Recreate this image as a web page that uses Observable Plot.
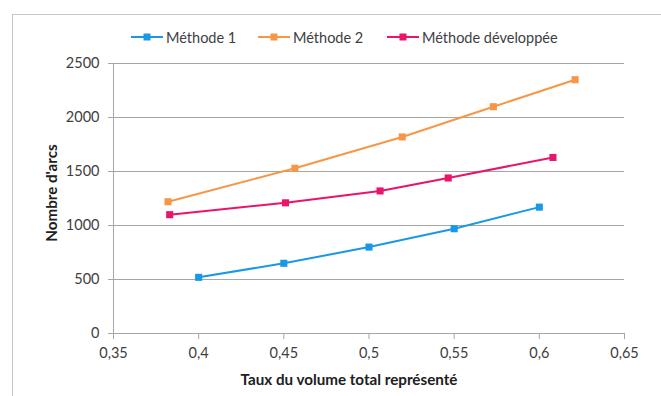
<!DOCTYPE html>
<html>
<head>
<meta charset="utf-8">
<script src="https://cdn.jsdelivr.net/npm/d3@7"></script>
<script src="https://cdn.jsdelivr.net/npm/@observablehq/plot@0.6"></script>
<style>
  html, body { margin: 0; padding: 0; background: #fff; }
  #wrap { position: relative; width: 661px; height: 396px; overflow: hidden; font-family: Lato, "Open Sans", sans-serif; color: #404040; }
  #frame { position: absolute; left: 12px; top: 14px; width: 800px; height: 500px; border-left: 1px solid #c6c6c6; border-top: 1px solid #c6c6c6; }
  #chart { position: absolute; left: 0; top: 50px; }
  .leg { position: absolute; top: 27px; height: 20px; display: flex; align-items: center; font-size: 14.5px; white-space: nowrap; }
  .leg svg { margin-right: 3px; }
  #xt { position: absolute; top: 370px; width: 300px; left: 199px; text-align: center; font-weight: bold; font-size: 15.2px; color: #202020; }
  #yt { position: absolute; left: 51px; top: 193px; transform: translate(-50%, -50%) rotate(-90deg); font-weight: bold; font-size: 15.2px; white-space: nowrap; color: #202020; }
</style>
</head>
<body>
<div id="wrap">
  <div id="frame"></div>
  <div id="legend"></div>
  <div id="chart"></div>
  <div id="xt"></div>
  <div id="yt"></div>
</div>
<script>
const seriesNames = ["Méthode 1", "Méthode 2", "Méthode développée"];
const seriesColors = ["#1a98e6", "#f79646", "#e8156a"];
const m1X = [0.4, 0.45, 0.5, 0.55, 0.6];
const m1Y = [520, 650, 800, 970, 1170];
const m2X = [0.382, 0.4565, 0.5195, 0.573, 0.621];
const m2Y = [1220, 1530, 1820, 2100, 2350];
const mdX = [0.383, 0.451, 0.5065, 0.5465, 0.608];
const mdY = [1100, 1210, 1320, 1440, 1630];
const xTicks = [0.35, 0.4, 0.45, 0.5, 0.55, 0.6, 0.65];
const yTicks = [0, 500, 1000, 1500, 2000, 2500];
const xTitle = "Taux du volume total représenté";
const yTitle = "Nombre d'arcs";

const allX = [m1X, m2X, mdX];
const allY = [m1Y, m2Y, mdY];
const data = [];
seriesNames.forEach((s, i) => allX[i].forEach((x, j) => data.push({series: s, x, y: allY[i][j]})));

const gridColor = "#a6a6a6";
const chart = Plot.plot({
  width: 650,
  height: 346,
  marginLeft: 113,
  marginRight: 26,
  marginTop: 13,
  marginBottom: 63,
  style: {fontFamily: "Lato, 'Open Sans', sans-serif", fontSize: "14.5px", color: "#404040", background: "transparent", overflow: "visible"},
  x: {domain: [0.35, 0.65]},
  y: {domain: [0, 2500]},
  color: {domain: seriesNames, range: seriesColors},
  marks: [
    Plot.gridY(yTicks.filter(d => d > 0), {stroke: gridColor, strokeOpacity: 1, strokeWidth: 1}),
    Plot.ruleX([0.35], {stroke: gridColor}),
    Plot.ruleY([0], {stroke: gridColor}),
    Plot.axisY({ticks: yTicks, tickSize: 5, tickPadding: 9, label: null, stroke: gridColor, fill: "#404040", tickFormat: d => String(d)}),
    Plot.axisX({ticks: xTicks, tickSize: 6, tickPadding: 8, label: null, stroke: gridColor, fill: "#404040", tickFormat: d => String(d).replace(".", ",")}),
    Plot.line(data, {x: "x", y: "y", z: "series", stroke: "series", strokeWidth: 2}),
    Plot.dot(data, {x: "x", y: "y", fill: "series", symbol: "square", r: 4})
  ]
});
document.getElementById("chart").appendChild(chart);

// legend
const legendLeft = [131, 258, 387];
const legend = document.getElementById("legend");
seriesNames.forEach((s, i) => {
  const d = document.createElement("div");
  d.className = "leg";
  d.style.left = legendLeft[i] + "px";
  const c = seriesColors[i];
  d.innerHTML = `<svg width="32" height="10"><line x1="0" x2="32" y1="5" y2="5" stroke="${c}" stroke-width="2"/><rect x="12.5" y="1.5" width="7" height="7" fill="${c}"/></svg><span></span>`;
  d.querySelector("span").textContent = s;
  legend.appendChild(d);
});
document.getElementById("xt").textContent = xTitle;
document.getElementById("yt").textContent = yTitle;
</script>
</body>
</html>
